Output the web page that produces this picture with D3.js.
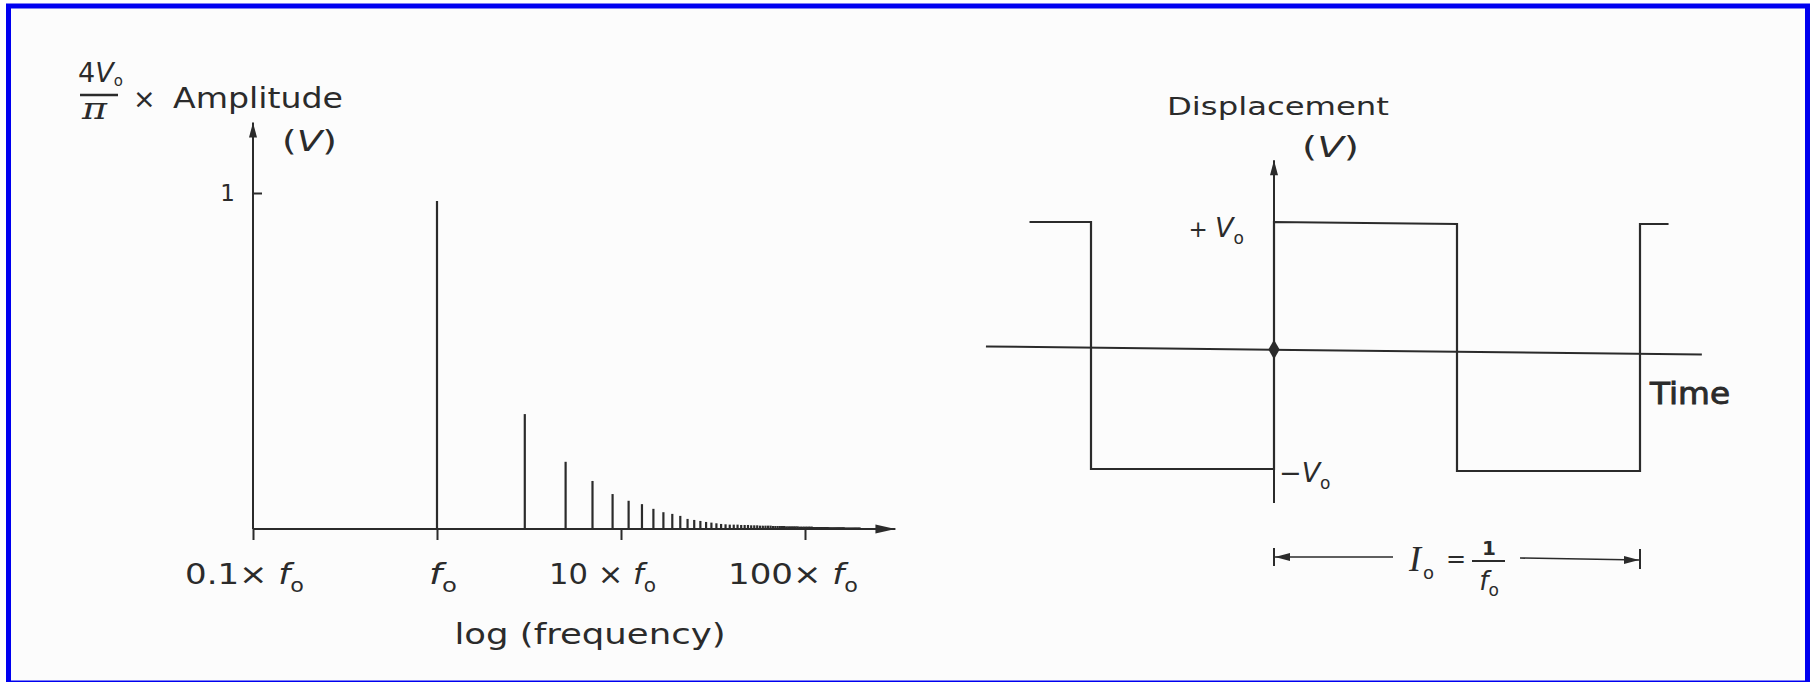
<!DOCTYPE html>
<html><head><meta charset="utf-8">
<script src="https://cdn.jsdelivr.net/npm/d3@7"></script>
<style>html,body{margin:0;padding:0;background:#fff;overflow:hidden}</style>
</head><body>
<svg id="c" width="1814" height="682"></svg>
<script>
// ---------- DATA ----------
// odd harmonics of the square wave (multiples of f0)
const harmonicOrders = [1,3,5,7,9,11,13,15,17,19,21,23,25,27,29,31,33,35,37,39,
  41,43,45,47,49,51,53,55,57,59,61,63,65,67,69,71,73,75,77,79,
  81,83,85,87,89,91,93,95,97,99,101,103,105,107,109,111,113,115,117,119,
  121,123,125,127,129,131,133,135,137,139,141,143,145,147,149,151,153,155,157,159,
  161,163,165,167,169,171,173,175,177,179,181,183,185,187,189,191,193,195,197,199,
  201,203,205,207,209,211,213,215,217,219,221,223,225,227,229,231,233];
// relative amplitude (units of 4V0/pi)
const harmonicAmplitudes = [0.976,0.342,0.200,0.143,0.104,0.084,0.074,0.060,0.050,0.045,
  0.039,0.030,0.027,0.024,0.021,0.019,0.017,0.015,0.014,0.013,
  0.013,0.013,0.012,0.012,0.012,0.011,0.011,0.011,0.010,0.010,
  0.010,0.010,0.010,0.009,0.009,0.009,0.009,0.009,0.009,0.008,
  0.008,0.008,0.008,0.008,0.008,0.008,0.007,0.007,0.007,0.007,
  0.007,0.007,0.007,0.007,0.007,0.006,0.006,0.006,0.006,0.006,
  0.006,0.006,0.006,0.006,0.006,0.006,0.006,0.005,0.005,0.005,
  0.005,0.005,0.005,0.005,0.005,0.005,0.005,0.005,0.005,0.005,
  0.005,0.005,0.004,0.004,0.004,0.004,0.004,0.004,0.004,0.004,
  0.004,0.004,0.004,0.004,0.004,0.004,0.004,0.004,0.004,0.004,
  0.003,0.003,0.003,0.003,0.003,0.003,0.003,0.003,0.003,0.003,
  0.003,0.003,0.003,0.003,0.003,0.002,0.002];
const freqTicks = [0.1, 1, 10, 100];
const freqTickPrefixes = ["0.1\u00d7 ", "", "10 \u00d7 ", "100\u00d7 "];
const freqAxisEnd = 310;          // arrow tip, multiples of f0
const ampTicks = [1];
const ampTickLabels = ["1"];
const ampAxisTop = 1.21;

// square wave: time in periods, level in units of V0
const waveTimes  = [-0.668, -0.5, -0.5, 0, 0, 0.5, 0.5, 1, 1, 1.078];
const waveLevels = [1, 1, -1, -1, 1, 1, -1, -1, 1, 1];
const levelTicks = [1, -1];
const levelTickLabels = ["+V", "\u2212V"];
const timeAxisExtent = [-0.787, 1.169];
const levelAxisExtent = [-1.275, 1.50];
const periodSpan = [0, 1];

// ---------- DRAW ----------
const ink = "#2b2b2b";
const font = "'DejaVu Sans', sans-serif";
const svg = d3.select("#c");
svg.append("rect").attr("x",0).attr("y",0).attr("width",1814).attr("height",682).attr("fill","#fff");
svg.append("rect").attr("x",8.5).attr("y",6).attr("width",1799).attr("height",677)
  .attr("fill","#fcfcfc").attr("stroke","#0000f0").attr("stroke-width",5);

// ----- Left: spectrum -----
const xF = d3.scaleLog().domain([0.1, 100]).range([253, 805]);
const yA = d3.scaleLinear().domain([0, 1]).range([529, 193]);
const L = svg.append("g");

// x axis line + arrow
L.append("line").attr("x1", xF(0.1)).attr("x2", xF(freqAxisEnd)).attr("y1", yA(0)).attr("y2", yA(0))
  .attr("stroke", ink).attr("stroke-width", 2);
{
  const tx = xF(freqAxisEnd), ty = yA(0);
  L.append("path").attr("d", `M${tx},${ty} L${tx-20},${ty-4.5} L${tx-20},${ty+4.5} Z`).attr("fill", ink);
}
// x ticks
const xAxis = d3.axisBottom(xF).tickValues(freqTicks).tickSize(11).tickFormat("");
const gx = L.append("g").attr("transform", `translate(0,${yA(0)})`).call(xAxis);
gx.select(".domain").remove();
gx.selectAll(".tick line").attr("stroke", ink).attr("stroke-width", 2);

const labelDx = [-8.5, 6, -18.5, -12];
const labelLen = [119, 28, 107, 130];
freqTicks.forEach((v, i) => {
  const t = L.append("text").attr("x", xF(v) + labelDx[i]).attr("y", 584)
    .attr("text-anchor", "middle").attr("font-family", font).attr("font-size", 29).attr("fill", ink)
    .attr("textLength", labelLen[i]).attr("lengthAdjust", "spacingAndGlyphs");
  if (freqTickPrefixes[i]) t.append("tspan").text(freqTickPrefixes[i]);
  t.append("tspan").attr("font-style", "italic").text("f");
  t.append("tspan").attr("font-size", 19).attr("dy", 8).text("o");
});

// y axis + arrow
L.append("line").attr("x1", xF(0.1)).attr("x2", xF(0.1)).attr("y1", yA(0)).attr("y2", yA(ampAxisTop))
  .attr("stroke", ink).attr("stroke-width", 2);
{
  const tx = xF(0.1), ty = yA(ampAxisTop);
  L.append("path").attr("d", `M${tx},${ty} L${tx-4},${ty+15} L${tx+4},${ty+15} Z`).attr("fill", ink);
}
const yAxis = d3.axisLeft(yA).tickValues(ampTicks).tickSize(-10).tickPadding(17)
  .tickFormat((d, i) => ampTickLabels[i]);
const gy = L.append("g").attr("transform", `translate(${xF(0.1) - 1},0)`).call(yAxis);
gy.select(".domain").remove();
gy.selectAll(".tick line").attr("stroke", ink).attr("stroke-width", 2);
gy.selectAll(".tick text").attr("font-family", font).attr("font-size", 23).attr("fill", ink);

// harmonic lines
L.append("g").selectAll("line").data(harmonicOrders).join("line")
  .attr("x1", d => xF(d)).attr("x2", d => xF(d))
  .attr("y1", yA(0)).attr("y2", (d, i) => yA(harmonicAmplitudes[i]))
  .attr("stroke", ink).attr("stroke-width", 2.2);

// axis titles
L.append("text").attr("x", 78).attr("y", 82).attr("font-family", font).attr("font-size", 27).attr("fill", ink)
  .call(t => { t.append("tspan").text("4"); t.append("tspan").attr("font-style","italic").text("V");
               t.append("tspan").attr("font-size", 15).attr("dy", 4).text("o"); });
L.append("line").attr("x1", 80).attr("x2", 118).attr("y1", 95).attr("y2", 95).attr("stroke", ink).attr("stroke-width", 2.4);
L.append("text").attr("x", 82).attr("y", 119).attr("font-family", "'DejaVu Serif', serif")
  .attr("font-style","italic").attr("font-size", 30).attr("fill", ink)
  .attr("textLength", 25).attr("lengthAdjust", "spacingAndGlyphs").text("\u03c0");
L.append("text").attr("x", 133).attr("y", 108).attr("font-family", font).attr("font-size", 27).attr("fill", ink).text("\u00d7");
L.append("text").attr("x", 173).attr("y", 108).attr("font-family", font).attr("font-size", 28).attr("fill", ink)
  .attr("textLength", 170).attr("lengthAdjust", "spacingAndGlyphs").text("Amplitude");
L.append("text").attr("x", 282).attr("y", 151).attr("font-family", font).attr("font-size", 29).attr("fill", ink)
  .attr("textLength", 55).attr("lengthAdjust", "spacingAndGlyphs")
  .call(t => { t.append("tspan").text("("); t.append("tspan").attr("font-style","italic").text("V"); t.append("tspan").text(")"); });
L.append("text").attr("x", 590).attr("y", 644).attr("text-anchor","middle").attr("font-family", font).attr("font-size", 28)
  .attr("fill", ink).attr("textLength", 271).attr("lengthAdjust","spacingAndGlyphs").text("log (frequency)");

// ----- Right: square wave -----
const tT = d3.scaleLinear().domain([0, 1]).range([1274, 1640]);
const yV = d3.scaleLinear().domain([-1, 1]).range([469, 222]);
const R = svg.append("g");

// time axis (slightly tilted, as in the scan)
R.append("line").attr("x1", tT(timeAxisExtent[0])).attr("x2", tT(timeAxisExtent[1]))
  .attr("y1", yV(0) + 1).attr("y2", yV(0) + 9).attr("stroke", ink).attr("stroke-width", 2);
// level axis + arrow
R.append("line").attr("x1", tT(0)).attr("x2", tT(0)).attr("y1", yV(levelAxisExtent[0])).attr("y2", yV(levelAxisExtent[1]))
  .attr("stroke", ink).attr("stroke-width", 2);
{
  const tx = tT(0), ty = yV(levelAxisExtent[1]);
  R.append("path").attr("d", `M${tx},${ty} L${tx-4},${ty+15} L${tx+4},${ty+15} Z`).attr("fill", ink);
}
// wave
const wave = d3.line().x((d, i) => tT(waveTimes[i])).y((d, i) => yV(waveLevels[i]) + (waveTimes[i] > 0.25 ? 2 : 0));
R.append("path").attr("d", wave(waveTimes)).attr("fill", "none").attr("stroke", ink).attr("stroke-width", 2.2);
// origin dot
R.append("path").attr("transform", `translate(${tT(0)},${yV(0)+4})`)
  .attr("d", d3.symbol(d3.symbolDiamond, 110)()).attr("fill", ink);

// level labels
levelTicks.forEach((v, i) => {
  const pos = v > 0;
  const t = R.append("text").attr("x", pos ? tT(0) - 30 : tT(0) + 5).attr("y", yV(v) + (pos ? 15 : 13))
    .attr("text-anchor", pos ? "end" : "start").attr("font-family", font).attr("font-size", 27).attr("fill", ink);
  const chars = levelTickLabels[i];
  t.append("tspan").attr("font-size", pos ? 23 : 27).text(chars[0] + (pos ? " " : ""));
  t.append("tspan").attr("font-style", "italic").text(chars.slice(1));
  t.append("tspan").attr("font-size", 17).attr("dy", 7).text("o");
});

R.append("text").attr("x", 1167).attr("y", 115).attr("font-family", font).attr("font-size", 25).attr("fill", ink)
  .attr("textLength", 222).attr("lengthAdjust","spacingAndGlyphs").text("Displacement");
R.append("text").attr("x", 1302).attr("y", 157).attr("font-family", font).attr("font-size", 29).attr("fill", ink)
  .attr("textLength", 57).attr("lengthAdjust", "spacingAndGlyphs")
  .call(t => { t.append("tspan").text("("); t.append("tspan").attr("font-style","italic").text("V"); t.append("tspan").text(")"); });
R.append("text").attr("x", 1650).attr("y", 404).attr("font-family", font).attr("font-size", 31)
  .attr("fill", ink).attr("stroke", ink).attr("stroke-width", 0.9)
  .attr("textLength", 80).attr("lengthAdjust","spacingAndGlyphs").text("Time");

// period annotation
const pY = 557;
const p0 = tT(periodSpan[0]), p1 = tT(periodSpan[1]);
R.append("line").attr("x1", p0).attr("x2", p0).attr("y1", pY - 9).attr("y2", pY + 9).attr("stroke", ink).attr("stroke-width", 2);
R.append("line").attr("x1", p1).attr("x2", p1).attr("y1", pY - 8).attr("y2", pY + 12).attr("stroke", ink).attr("stroke-width", 2);
R.append("line").attr("x1", p0).attr("x2", 1393).attr("y1", pY).attr("y2", pY).attr("stroke", ink).attr("stroke-width", 1.6);
R.append("line").attr("x1", 1520).attr("x2", p1).attr("y1", pY + 1).attr("y2", pY + 3).attr("stroke", ink).attr("stroke-width", 1.6);
R.append("path").attr("d", `M${p0+1},${pY} L${p0+16},${pY-4} L${p0+16},${pY+4} Z`).attr("fill", ink);
R.append("path").attr("d", `M${p1-1},${pY+3} L${p1-16},${pY-1} L${p1-16},${pY+7} Z`).attr("fill", ink);
R.append("text").attr("x", 1409).attr("y", 571).attr("font-family", "'Liberation Serif', serif").attr("font-style","italic")
  .attr("font-size", 36).attr("fill", ink)
  .call(t => { t.append("tspan").text("I"); t.append("tspan").attr("font-family", font).attr("font-style","normal")
               .attr("font-size", 18).attr("dy", 8).attr("dx", 2).text("o"); });
R.append("text").attr("x", 1446).attr("y", 567).attr("font-family", font).attr("font-size", 24).attr("fill", ink).text("=");
R.append("text").attr("x", 1489).attr("y", 555).attr("text-anchor","middle").attr("font-family", font)
  .attr("font-weight", 700).attr("font-size", 20).attr("fill", ink).text("1");
R.append("line").attr("x1", 1472).attr("x2", 1505).attr("y1", 561).attr("y2", 561).attr("stroke", ink).attr("stroke-width", 2.2);
R.append("text").attr("x", 1489).attr("y", 590).attr("text-anchor","middle").attr("font-family", font).attr("font-size", 26).attr("fill", ink)
  .call(t => { t.append("tspan").attr("font-style","italic").text("f");
               t.append("tspan").attr("font-size", 17).attr("dy", 6).text("o"); });
</script>
</body></html>
